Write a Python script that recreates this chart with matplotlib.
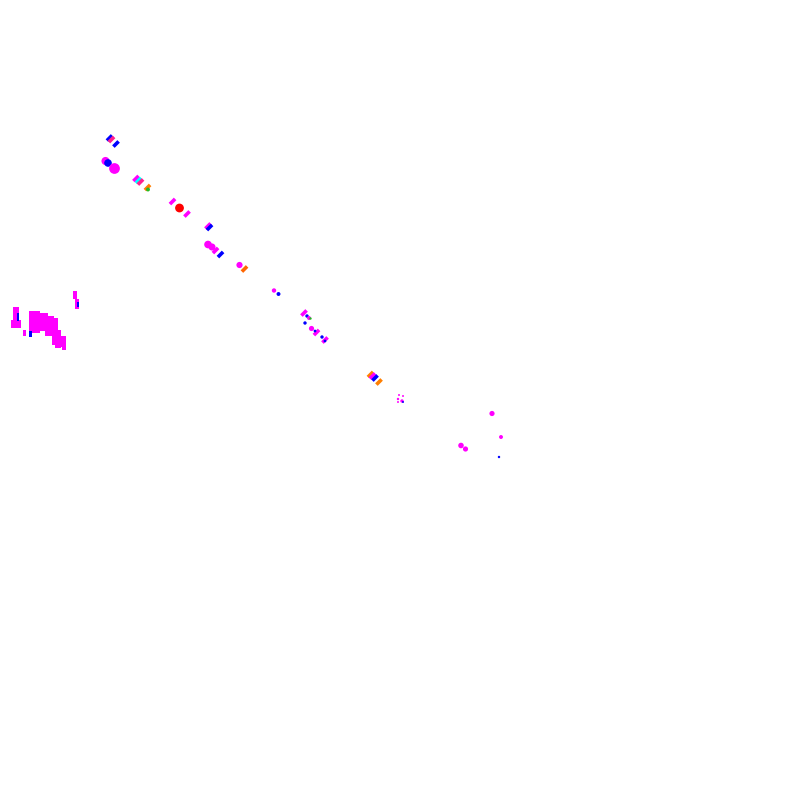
import matplotlib
matplotlib.use("Agg")
import matplotlib.pyplot as plt
from matplotlib.markers import MarkerStyle
from matplotlib.transforms import Affine2D

# ---- data (pixel-like coordinate space 0..800) ----
# left cluster: rectangles (x0, y0, width, height) and colours
block_x = [13, 11, 23, 29, 38, 45, 52, 55, 60, 62, 73, 75, 17, 29, 77]
block_y = [307, 320, 330, 311, 313, 316, 318, 330, 336, 340, 291, 299, 313, 331, 302]
block_w = [6, 10, 3, 11, 10, 9, 6, 6, 6, 4, 4, 4, 1.5, 2.5, 1.5]
block_h = [21, 8, 6, 22, 18, 20, 27, 18, 11, 10, 8, 10, 8, 6, 5]
block_c = ["magenta"] * 12 + ["blue", "blue", "blue"]

# diagonal strokes ("/" marks)
stroke_x = [109.5, 111.5, 116.0, 136.0, 138.5, 140.5, 147.5, 172.5, 187.0,
            208.0, 209.5, 215.5, 220.5, 244.5, 370.5, 372.5, 375.0, 379.0,
            304.0, 316.5, 325.0]
stroke_y = [138.0, 139.5, 144.0, 178.5, 180.5, 182.0, 187.5, 201.5, 214.0,
            226.0, 227.5, 250.5, 254.5, 269.0, 374.5, 376.0, 378.0, 382.0,
            313.0, 332.5, 340.0]
stroke_c = ["blue", "#ff1f8f", "blue", "magenta", "cyan", "#ff1f8f", "#ff7f00",
            "magenta", "magenta", "magenta", "blue", "magenta", "blue", "#ff6600",
            "#ff7f00", "magenta", "blue", "#ff7f00", "magenta", "magenta", "magenta"]

# blobs (round marks)
blob_x = [105.5, 108.0, 114.5, 179.5, 148.0, 208.0, 212.0, 239.5, 274.0, 278.5,
          307.0, 309.0, 310.5, 305.0, 311.5, 315.0, 322.0, 325.0,
          399, 403, 398, 402, 398, 403,
          492, 501, 461, 465.5, 499]
blob_y = [161.0, 163.0, 168.5, 208.0, 189.5, 244.5, 247.0, 265.0, 290.5, 294.0,
          316.0, 318.0, 318.5, 323.0, 328.5, 331.0, 337.0, 341.0,
          395, 396, 399, 401, 402, 402,
          413.5, 437, 445.5, 449, 457]
blob_c = ["magenta", "blue", "magenta", "red", "#22bb22", "magenta", "magenta",
          "magenta", "magenta", "blue",
          "blue", "magenta", "#22bb22", "blue", "magenta", "blue", "blue", "blue",
          "magenta", "magenta", "magenta", "magenta", "magenta", "blue",
          "magenta", "magenta", "magenta", "magenta", "blue"]
blob_s = [34, 30, 60, 40, 8, 30, 26, 20, 10, 8,
          6, 8, 3, 6, 14, 4, 6, 4,
          2, 2, 3, 6, 2, 2,
          14, 8, 16, 14, 3]

fig = plt.figure(figsize=(8, 8), dpi=100)
ax = fig.add_axes([0, 0, 1, 1])
ax.set_xlim(0, 800)
ax.set_ylim(800, 0)
ax.axis("off")

ax.bar(block_x, block_h, width=block_w, bottom=block_y, align="edge",
       color=block_c, linewidth=0)

slash = MarkerStyle("|", transform=Affine2D().rotate_deg(-45))
ax.scatter(stroke_x, stroke_y, marker=slash, s=28, c=stroke_c, linewidths=2.6)

ax.scatter(blob_x, blob_y, marker="o", s=blob_s, c=blob_c, linewidths=0)

fig.savefig("out.png", dpi=100, facecolor="white")
